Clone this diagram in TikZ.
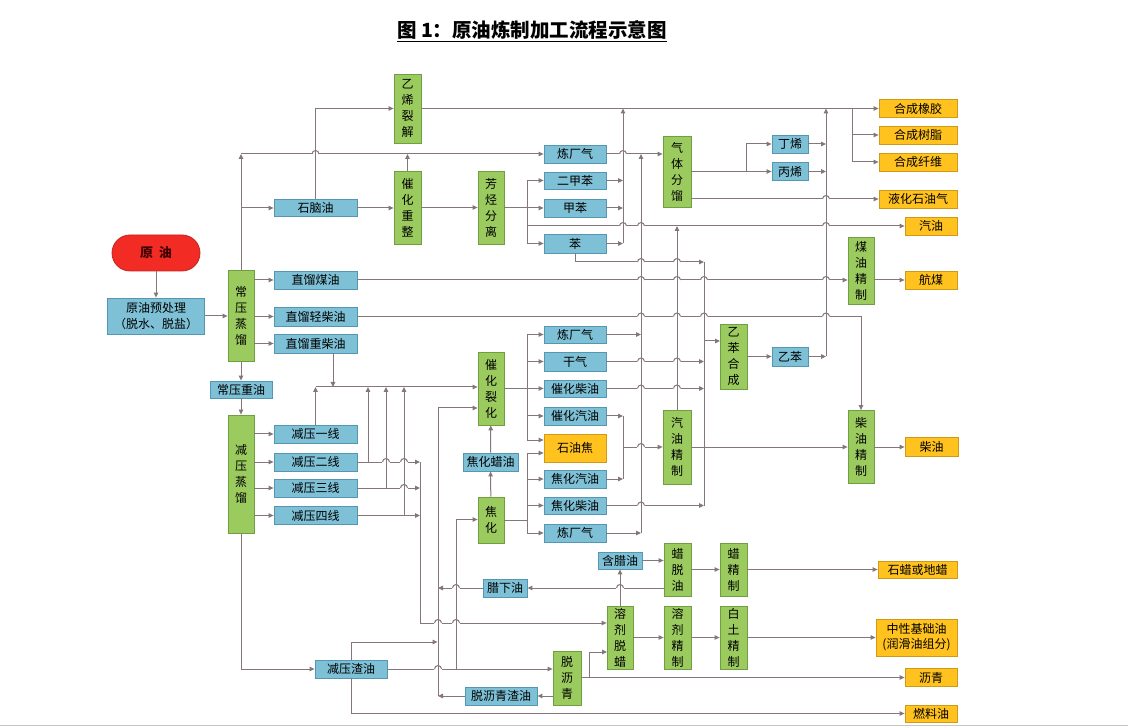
\documentclass[tikz,border=0pt]{standalone}
\usepackage{fontspec}
\setmainfont{Noto Sans CJK SC}
\usetikzlibrary{arrows.meta,calc}
\definecolor{lnc}{HTML}{85767A}
\definecolor{bfill}{HTML}{7EC0D6}
\definecolor{bdraw}{HTML}{5597B2}
\definecolor{gfill}{HTML}{9BCB5F}
\definecolor{gdraw}{HTML}{6F9F40}
\definecolor{ofill}{HTML}{FFC21E}
\definecolor{odraw}{HTML}{CF9A18}
\definecolor{rfill}{HTML}{F22B25}
\tikzset{
  sz/.style 2 args={minimum width=#1pt, minimum height=#2pt},
  bbox/.style={draw=bdraw, fill=bfill, line width=0.8pt, inner sep=0pt,
               align=center, font=\fontsize{12}{16}\selectfont},
  gbox/.style={draw=gdraw, fill=gfill, line width=0.8pt, inner sep=0pt,
               align=center, font=\fontsize{12}{16}\selectfont},
  obox/.style={draw=odraw, fill=ofill, line width=0.8pt, inner sep=0pt,
               align=center, font=\fontsize{12}{15}\selectfont},
  rbox/.style={draw=rfill!80!black, fill=rfill, line width=0.8pt, rounded corners=18pt,
               font=\fontsize{13}{15}\selectfont\bfseries, text=red!25!black},
  ln/.style={draw=lnc, line width=1pt},
  arr/.style={ln, -{Triangle[length=5pt,width=4.5pt]}}}
% line jump: horizontal line hops over a vertical one
\newcommand{\jmp}[1]{%
  \fill[white] ($#1+(-3.7,-1.3)$) rectangle ($#1+(3.7,1.3)$);
  \draw[ln] ($#1+(-3.5,0)$) arc[start angle=180,end angle=0,radius=3.5pt];
  \draw[ln] ($#1+(0,-5.5)$) -- ($#1+(0,5.5)$);}

\begin{document}
\begin{tikzpicture}[x=1pt,y=-1pt]
  \useasboundingbox (0,0) rectangle (1128,727);
  \fill[white] (0,0) rectangle (1128,727);
  \draw[gray!45] (0,725.5) -- (1128,725.5);
  \node[font=\fontsize{19.5}{21}\selectfont\bfseries] (ttl) at (532,31)
    {\underline{图 1：原油炼制加工流程示意图}};

  % feed and atmospheric column
  \node[rbox, sz={88}{36}] (yy) at (156,253) {原\hspace{6pt}油};
  \node[bbox, sz={97}{36}] (pre) at (156,316) {原油预处理\\（脱水、脱盐）};
  \node[gbox, sz={26}{91}] (cyzl) at (241,316) {常\\压\\蒸\\馏};
  \node[bbox, sz={83}{17}] (sno) at (315.5,208) {石脑油};
  \node[bbox, sz={83}{18}] (zmy) at (315.5,280) {直馏煤油};
  \node[bbox, sz={83}{19}] (zqc) at (315.5,316.5) {直馏轻柴油};
  \node[bbox, sz={83}{19}] (zzc) at (315.5,343.5) {直馏重柴油};
  \node[bbox, sz={62}{17}] (cyzy) at (241,389.5) {常压重油};
  \node[gbox, sz={26}{118}] (jyzl) at (241,474) {减\\压\\蒸\\馏};
  \node[bbox, sz={83}{18}] (jy1) at (315.5,434) {减压一线};
  \node[bbox, sz={83}{18}] (jy2) at (315.5,462) {减压二线};
  \node[bbox, sz={83}{18}] (jy3) at (315.5,488) {减压三线};
  \node[bbox, sz={83}{18}] (jy4) at (315.5,515.5) {减压四线};
  \node[bbox, sz={72}{18}] (jyzy) at (351,669) {减压渣油};

  % naphtha
  \node[gbox, sz={27}{69}] (yxlj) at (407.5,108.5) {乙\\烯\\裂\\解};
  \node[gbox, sz={27}{73}] (chcz) at (407.5,207.5) {催\\化\\重\\整};
  \node[gbox, sz={26}{73}] (fjfl) at (491,207.5) {芳\\烃\\分\\离};
  \node[bbox, sz={62}{18}] (lcq1) at (575,154) {炼厂气};
  \node[bbox, sz={62}{17}] (ejb) at (575,180.5) {二甲苯};
  \node[bbox, sz={62}{18}] (jb) at (575,208) {甲苯};
  \node[bbox, sz={62}{19}] (ben) at (575,243.5) {苯};
  \node[gbox, sz={28}{71}] (qtfl) at (677,171.5) {气\\体\\分\\馏};
  \node[bbox, sz={36}{18}] (dx) at (790,144) {丁烯};
  \node[bbox, sz={36}{18}] (bx) at (790,171.5) {丙烯};
  \node[gbox, sz={26}{67}] (myjz) at (861,270.5) {煤\\油\\精\\制};
  \node[gbox, sz={27}{65}] (ybhc) at (733.5,356.5) {乙\\苯\\合\\成};
  \node[bbox, sz={36}{19}] (yb) at (790,356.5) {乙苯};
  \node[gbox, sz={26}{73}] (cyjz) at (861,447) {柴\\油\\精\\制};

  % cracking and coking
  \node[gbox, sz={26}{73}] (chlh) at (491,388.5) {催\\化\\裂\\化};
  \node[bbox, sz={55}{18}] (jhly) at (490.5,462) {焦化蜡油};
  \node[gbox, sz={26}{46}] (jh) at (491,520) {焦\\化};
  \node[bbox, sz={62}{17}] (lcq2) at (575,334.5) {炼厂气};
  \node[bbox, sz={62}{19}] (gq) at (575,361.5) {干气};
  \node[bbox, sz={62}{17}] (chcy) at (575,388.5) {催化柴油};
  \node[bbox, sz={62}{18}] (chqy) at (575,416) {催化汽油};
  \node[obox, sz={62}{28}] (syj) at (575,448) {石油焦};
  \node[bbox, sz={62}{18}] (jhqy) at (575,479) {焦化汽油};
  \node[bbox, sz={62}{17}] (jhcy) at (575,505.5) {焦化柴油};
  \node[bbox, sz={62}{18}] (lcq3) at (575,533) {炼厂气};
  \node[gbox, sz={28}{74}] (qyjz) at (677,447) {汽\\油\\精\\制};

  % wax, lube and asphalt
  \node[bbox, sz={44}{17}] (hly) at (620,560.5) {含腊油};
  \node[gbox, sz={27}{53}] (ltly) at (677.5,569.5) {蜡\\脱\\油};
  \node[gbox, sz={27}{53}] (ljz) at (733.5,569.5) {蜡\\精\\制};
  \node[bbox, sz={44}{18}] (lxy) at (505,588) {腊下油};
  \node[gbox, sz={26}{63}] (rjtl) at (620,637.5) {溶\\剂\\脱\\蜡};
  \node[gbox, sz={27}{63}] (rjjz) at (677.5,637.5) {溶\\剂\\精\\制};
  \node[gbox, sz={27}{63}] (btjz) at (733.5,637.5) {白\\土\\精\\制};
  \node[gbox, sz={28}{54}] (tlq) at (567,678) {脱\\沥\\青};
  \node[bbox, sz={72}{18}] (tlqzy) at (501,696) {脱沥青渣油};

  % products
  \node[obox, sz={78}{18}] (hcxj) at (918,108.5) {合成橡胶};
  \node[obox, sz={78}{18}] (hcsz) at (918,135) {合成树脂};
  \node[obox, sz={78}{18}] (hcxw) at (918,162) {合成纤维};
  \node[obox, sz={78}{18}] (yhsyq) at (918,199) {液化石油气};
  \node[obox, sz={52}{18}] (qy) at (931,226) {汽油};
  \node[obox, sz={52}{18}] (hm) at (931,280) {航煤};
  \node[obox, sz={53}{19}] (chy) at (931.5,447) {柴油};
  \node[obox, sz={79}{17}] (slddl) at (917.5,569.5) {石蜡或地蜡};
  \node[obox, sz={81}{37}] (zxjcy) at (916.5,637.5) {中性基础油\\(润滑油组分)};
  \node[obox, sz={52}{18}] (lq) at (931,677.5) {沥青};
  \node[obox, sz={52}{17}] (rly) at (931,713.5) {燃料油};

  % bus points
  \coordinate (fs) at (527,208);
  \coordinate (bz) at (623,108.5);
  \coordinate (gx) at (641,154);
  \coordinate (qs) at (746,171.5);
  \coordinate (ex) at (826,108.5);
  \coordinate (hs) at (852,108.5);
  \coordinate (bb) at (704,262);
  \coordinate (ybin) at (720,341);
  \coordinate (cs) at (527,388.5);
  \coordinate (js) at (527,520);
  \coordinate (gs) at (623,447);
  \coordinate (ci) at (315.5,387);
  \coordinate (v2) at (368,387);
  \coordinate (v3) at (386,387);
  \coordinate (v4) at (404,387);
  \coordinate (vs) at (420,623);
  \coordinate (rb) at (438,408);
  \coordinate (kb) at (456,519.5);
  \coordinate (zt) at (351,642);
  \coordinate (ts) at (589,677.5);
  \coordinate (tin) at (607,652);

  % atmospheric side
  \draw[arr] (yy) -- (pre);
  \draw[arr] (pre) -- (cyzl);
  \draw[arr] (cyzl.north) -- (cyzl.north |- lcq1);
  \draw[arr] (cyzl.north |- lcq1) -- (lcq1);
  \draw[arr] (cyzl.north |- sno) -- (sno);
  \draw[arr] (cyzl.east |- zmy) -- (zmy);
  \draw[arr] (cyzl.east |- zqc) -- (zqc);
  \draw[arr] (cyzl.east |- zzc) -- (zzc);
  \draw[arr] (cyzl) -- (cyzy);
  \draw[arr] (cyzy) -- (jyzl);
  \draw[arr] (sno.north) |- (yxlj);
  \draw[arr] (sno) -- (chcz.west |- sno);
  \draw[arr] (chcz.north) -- (chcz.north |- lcq1);
  \draw[arr] (chcz) -- (fjfl);
  \draw[ln] (fjfl.east |- fs) -- (fs);
  \draw[arr] (fs) |- (ejb);
  \draw[arr] (fs) -- (jb);
  \draw[arr] (fs) |- (ben);
  \draw[arr] (fs |- qy) -- (qy);
  \draw[arr] (ejb) -- (bz |- ejb);
  \draw[arr] (jb) -- (bz |- jb);
  \draw[arr] (ben) -- (bz |- ben);
  \draw[arr] (bz |- ben) -- (bz);
  \draw[arr] (yxlj) -- (hcxj);
  \draw[arr] (hs) |- (hcsz);
  \draw[arr] (hs) |- (hcxw);
  \draw[arr] (lcq1) -- (qtfl.west |- lcq1);
  \draw[arr] (lcq2) -- (gx |- lcq2);
  \draw[arr] (lcq3) -- (gx |- lcq3);
  \draw[arr] (gx |- lcq3) -- (gx);
  \draw[ln] (qtfl.east |- qs) -- (qs);
  \draw[arr] (qs) |- (dx);
  \draw[arr] (qs) -- (bx);
  \draw[arr] (qtfl.east |- yhsyq) -- (yhsyq);
  \draw[arr] (dx) -- (ex |- dx);
  \draw[arr] (bx) -- (ex |- bx);
  \draw[arr] (ybhc) -- (yb);
  \draw[arr] (yb) -- (ex |- yb);
  \draw[arr] (ex |- yb) -- (ex);
  \draw[arr] (qyjz.north) -- (qyjz.north |- qy);
  \draw[arr] (zmy) -- (myjz.west |- zmy);
  \draw[arr] (myjz.east |- hm) -- (hm);
  \draw[arr] (zqc) -| (cyjz.north);
  \draw[arr] (cyjz) -- (chy);
  \draw[arr] (qyjz) -- (cyjz);
  \draw[arr] (ben.south) |- (bb);
  \draw[ln] (bb) -- (bb |- jhcy);
  \draw[arr] (bb |- ybin) -- (ybin);
  \draw[arr] (gq) -- (bb |- gq);
  \draw[arr] (chcy) -- (bb |- chcy);
  \draw[arr] (jhcy) -- (bb |- jhcy);

  % cracking and coking
  \draw[ln] (chlh) -- (cs);
  \draw[arr] (cs) |- (lcq2);
  \draw[arr] (cs) |- (gq);
  \draw[arr] (cs) -- (chcy);
  \draw[arr] (cs) |- (chqy);
  \draw[arr] (cs) |- ($(syj.west)+(0,-8)$);
  \draw[ln] (jh) -- (js);
  \draw[arr] (js) |- ($(syj.west)+(0,5)$);
  \draw[arr] (js) |- (jhqy);
  \draw[arr] (js) |- (jhcy);
  \draw[arr] (js) |- (lcq3);
  \draw[arr] (jh) -- (jhly);
  \draw[arr] (jhly) -- (chlh);
  \draw[arr] (chqy) -- (gs |- chqy);
  \draw[arr] (jhqy) -- (gs |- jhqy);
  \draw[ln] (gs |- chqy) -- (gs |- jhqy);
  \draw[arr] (gs) -- (qyjz.west |- gs);

  % vacuum side
  \draw[arr] (jyzl.east |- jy1) -- (jy1);
  \draw[arr] (jyzl.east |- jy2) -- (jy2);
  \draw[arr] (jyzl.east |- jy3) -- (jy3);
  \draw[arr] (jyzl.east |- jy4) -- (jy4);
  \draw[arr] (ci) -- (chlh.west |- ci);
  \draw[arr] ([xshift=17.5pt]zzc.south) -- ([xshift=17.5pt]zzc.south |- ci);
  \draw[arr] (jy1) -- (jy1 |- ci);
  \draw[arr] (jy2) -- (vs |- jy2);
  \draw[arr] (jy3) -- (vs |- jy3);
  \draw[arr] (jy4) -- (vs |- jy4);
  \draw[arr] (v2 |- jy2) -- (v2);
  \draw[arr] (v3 |- jy3) -- (v3);
  \draw[arr] (v4 |- jy4) -- (v4);
  \draw[ln] (vs |- jy2) -- (vs);
  \draw[arr] (vs) -- (rjtl.west |- vs);
  \draw[arr] (rb) -- (chlh.west |- rb);
  \draw[ln] (rb |- tlqzy) -- (rb);
  \draw[arr] (tlqzy) -- (rb |- tlqzy);
  \draw[arr] (lxy) -- (rb |- lxy);
  \draw[arr] (jyzy.north) |- ([xshift=-0.5pt]rb |- zt);
  \draw[arr] (jyzy.south) |- (rly);
  \draw[arr] (jyzl.south) |- (jyzy);
  \draw[arr] (jyzy) -- (tlq.west |- jyzy);
  \draw[ln] (kb |- jyzy) -- (kb);
  \draw[arr] (kb) -- (jh.west |- kb);
  \draw[arr] (tlq.west |- tlqzy) -- (tlqzy);
  \draw[arr] (tlq.east |- ts) -- (lq.west |- ts);
  \draw[arr] (ts) |- (tin);
  \draw[arr] (rjtl) -- (rjjz);
  \draw[arr] (rjjz) -- (btjz);
  \draw[arr] (btjz) -- (zxjcy);
  \draw[arr] (rjtl) -- (hly);
  \draw[arr] (hly) -- (ltly.west |- hly);
  \draw[arr] (ltly) -- (ljz);
  \draw[arr] (ljz) -- (slddl);
  \draw[arr] (ltly.west |- lxy) -- (lxy);

  % jumps
  \jmp{(sno.north |- lcq1)}
  \jmp{(bz |- lcq1)}
  \jmp{(bz |- qy)}
  \jmp{(gx |- qy)}
  \jmp{(ex |- qy)}
  \jmp{(ex |- yhsyq)}
  \jmp{(gx |- bb)}
  \jmp{(qyjz.north |- bb)}
  \jmp{(gx |- zmy)}
  \jmp{(qyjz.north |- zmy)}
  \jmp{(bb |- zmy)}
  \jmp{(ex |- zmy)}
  \jmp{(gx |- zqc)}
  \jmp{(qyjz.north |- zqc)}
  \jmp{(bb |- zqc)}
  \jmp{(ex |- zqc)}
  \jmp{(gx |- gq)}
  \jmp{(qyjz.north |- gq)}
  \jmp{(gx |- chcy)}
  \jmp{(qyjz.north |- chcy)}
  \jmp{(gx |- gs)}
  \jmp{(gx |- jhcy)}
  \jmp{(v3 |- jy2)}
  \jmp{(v4 |- jy2)}
  \jmp{(v4 |- jy3)}
  \jmp{(rb |- vs)}
  \jmp{(kb |- vs)}
  \jmp{(rb |- jyzy)}
  \jmp{(kb |- lxy)}
  \jmp{(rjtl.north |- lxy)}
\end{tikzpicture}
\end{document}
